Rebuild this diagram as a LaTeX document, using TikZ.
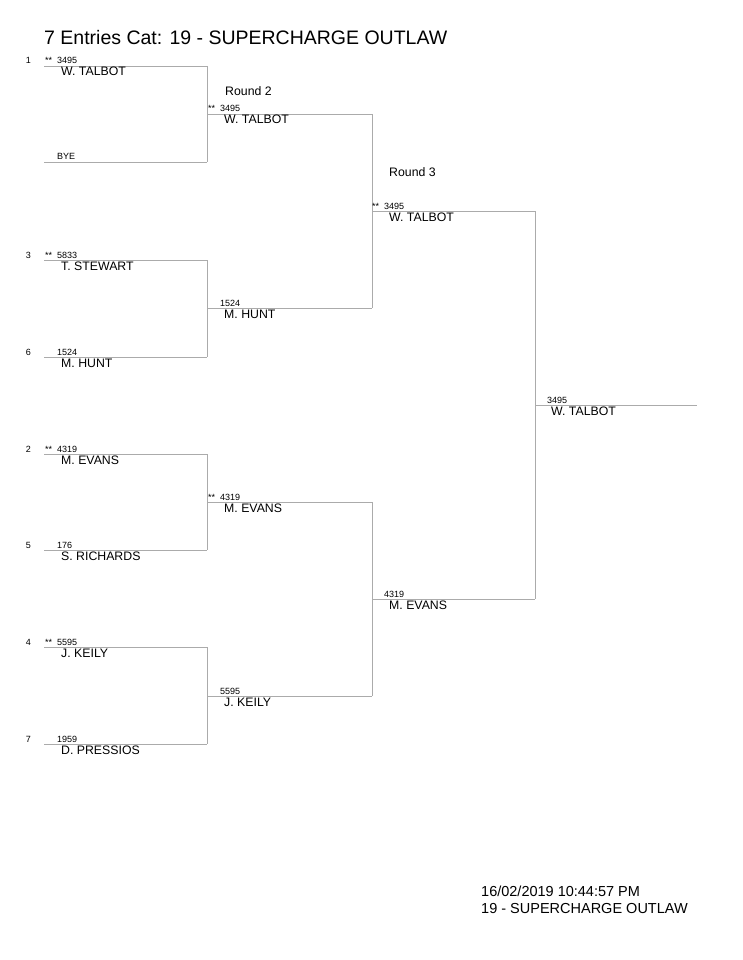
\documentclass[tikz,border=0pt]{standalone}
\usepackage{fontspec}
\setmainfont{Liberation Sans}
\newcommand\st{\llap{**\hspace{5pt}}}
\begin{document}
\begin{tikzpicture}[x=1pt, y=-1pt,
	line/.style={draw=black!33, line width=0.8pt},
	player/.style={anchor=base west, inner sep=0pt, font=\fontsize{12.3}{14}\selectfont},
	tag/.style={anchor=base west, inner sep=0pt, font=\fontsize{9}{10}\selectfont}]
	\useasboundingbox (0,0) rectangle (742,960);
	\node[player, font=\fontsize{19.5}{22}\selectfont] (title) at (44,45) {7 Entries Cat: 19 - SUPERCHARGE OUTLAW};
	% round 1
	\foreach \i/\y/\s/\n/\w in {1/66/1/\st 3495/W. TALBOT, 2/162//BYE/, 3/260/3/\st 5833/T. STEWART, 4/357/6/1524/M. HUNT, 5/454/2/\st 4319/M. EVANS, 6/550/5/176/S. RICHARDS, 7/647/4/\st 5595/J. KEILY, 8/744/7/1959/D. PRESSIOS}
	{
		\coordinate (a\i) at (44,\y);
		\coordinate (a\i e) at (207,\y);
		\draw[line] (a\i) -- (a\i e);
		\node[tag, anchor=base east] (s\i) at (31,\y-2) {\s};
		\node[tag] (n\i) at (57,\y-2) {\n};
		\node[player] (w\i) at (61,\y+10) {\w};
	}
	\foreach \i/\j in {1/2, 3/4, 5/6, 7/8}
		\draw[line] (a\i e) -- (a\j e);
	% round 2
	\node[player] (round2) at (225,96) {Round 2};
	\foreach \i/\y/\n/\w in {1/114/\st 3495/W. TALBOT, 2/308/1524/M. HUNT, 3/502/\st 4319/M. EVANS, 4/696/5595/J. KEILY}
	{
		\coordinate (b\i) at (207,\y);
		\coordinate (b\i e) at (372,\y);
		\draw[line] (b\i) -- (b\i e);
		\node[tag] (m\i) at (220,\y-2) {\n};
		\node[player] (v\i) at (224,\y+10) {\w};
	}
	\foreach \i/\j in {1/2, 3/4}
		\draw[line] (b\i e) -- (b\j e);
	% round 3
	\node[player] (round3) at (389,177) {Round 3};
	\foreach \i/\y/\n/\w in {1/211/\st 3495/W. TALBOT, 2/599/4319/M. EVANS}
	{
		\coordinate (c\i) at (372,\y);
		\coordinate (c\i e) at (535,\y);
		\draw[line] (c\i) -- (c\i e);
		\node[tag] (k\i) at (384,\y-2) {\n};
		\node[player] (u\i) at (389,\y+10) {\w};
	}
	\draw[line] (c1e) -- (c2e);
	% winner
	\coordinate (d1) at (535,405);
	\coordinate (d1e) at (697,405);
	\draw[line] (d1) -- (d1e);
	\node[tag] (win) at (547,403) {3495};
	\node[player] (winner) at (551,415) {W. TALBOT};
	% footer
	\node[player, font=\fontsize{14.5}{17}\selectfont] (date) at (481,896) {16/02/2019 10:44:57 PM};
	\node[player, font=\fontsize{14.5}{17}\selectfont] (cat) at (481,913) {19 - SUPERCHARGE OUTLAW};
\end{tikzpicture}
\end{document}
